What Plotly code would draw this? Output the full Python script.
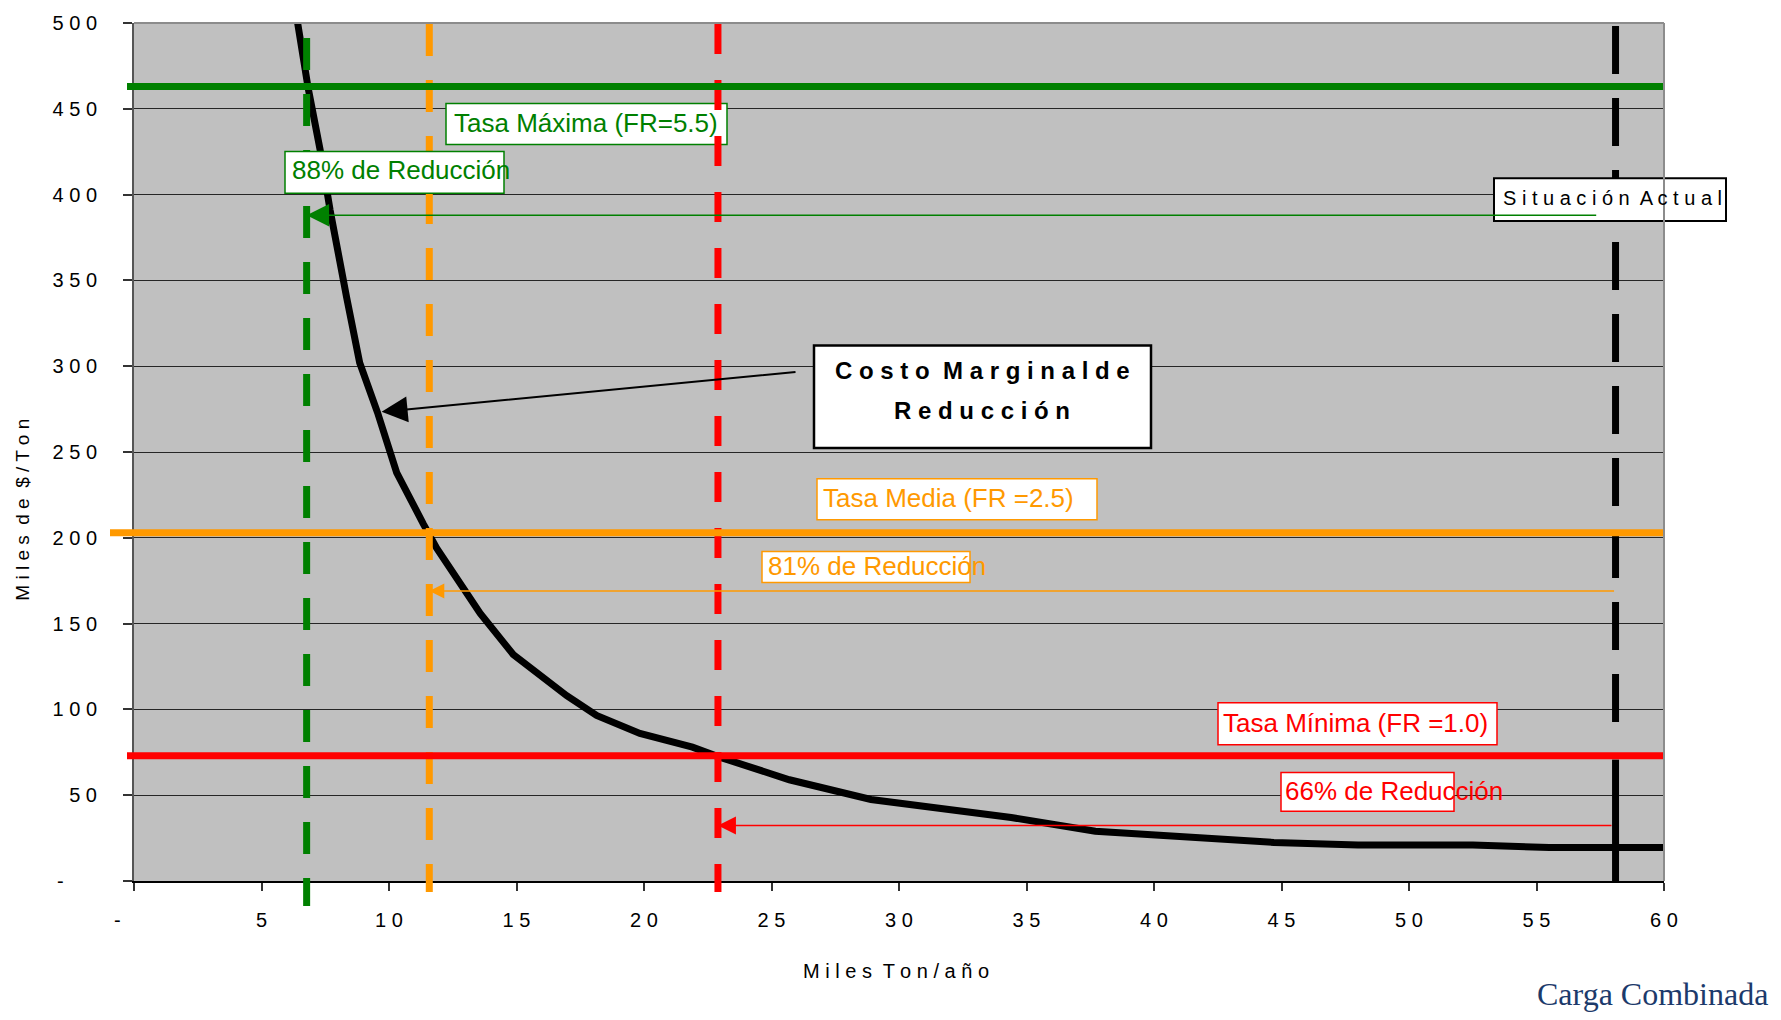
import plotly.graph_objects as go

# ---------------- data ----------------
curve_x = [6.2, 6.42, 6.83, 7.3, 7.69, 8.34, 8.85, 9.55, 10.3, 11.35, 11.87, 13.57,
           14.87, 16.97, 18.14, 19.84, 21.9, 22.9, 25.7, 28.9, 30.9, 34.4, 37.7,
           44.7, 48.0, 52.5, 55.5, 60.0]
curve_y = [520, 500, 462, 426, 391, 340, 302, 273, 238, 208, 194, 156,
           132, 108, 96.5, 86, 78, 72.5, 59, 47.5, 43.5, 37, 29,
           22.5, 21, 21, 19.5, 19.5]

rate_names = ["Tasa Máxima (FR=5.5)", "Tasa Media (FR =2.5)", "Tasa Mínima (FR =1.0)"]
rate_values = [463, 203, 73]            # Miles de $/Ton
reduction_x = [6.77, 11.58, 22.9]       # Miles Ton/año at each rate
reduction_labels = ["88% de Reducción", "81% de Reducción", "66% de Reducción"]
arrow_levels = [388, 169, 32.3]
arrow_tails = [57.4, 58.1, 58.0]
current_x = 58.1                        # Situación Actual

x_ticks = list(range(0, 61, 5))
y_ticks = list(range(0, 501, 50))
NB = "\u00a0"
x_ticktext = ["-" + NB * 6] + [" ".join(str(v)) for v in x_ticks[1:]]
y_ticktext = ["-" + NB * 6] + [" ".join(str(v)) for v in y_ticks[1:]]

colors = ["#008000", "#FF9900", "#FF0000"]

# ---------------- layout geometry ----------------
W, H = 1781, 1020
L, R, T, B = 134, 1664, 19, 881


def px(x):
    return (x - L) / (R - L)


def py(y):
    return (B - y) / (B - T)


FONT = "Liberation Sans, Arial, sans-serif"

fig = go.Figure()
fig.add_trace(go.Scatter(x=curve_x, y=curve_y, mode="lines",
                         line=dict(color="black", width=7), hoverinfo="skip",
                         showlegend=False))

shapes = []
vtops = [py(34), py(20), py(20)]
vbots = [py(906), py(892), py(892)]
dashes = ["32px,24px", "32px,24px", "30px,26px"]


def vline(x, top, bot, color, dash):
    return dict(type="line", xref="x", yref="paper", x0=x, x1=x, y0=top, y1=bot,
                line=dict(color=color, width=7, dash=dash), layer="above")


shapes.append(vline(reduction_x[0], vtops[0], vbots[0], colors[0], dashes[0]))
shapes.append(vline(reduction_x[1], vtops[1], vbots[1], colors[1], dashes[1]))
shapes.append(vline(current_x, py(22), py(740), "black", "48px,24px"))
shapes.append(vline(current_x, py(759), 0, "black", "solid"))


def box(x0, y0, x1, y1, color, w=1.5):
    return dict(type="rect", xref="paper", yref="paper", x0=px(x0), x1=px(x1),
                y0=py(y1), y1=py(y0), fillcolor="white",
                line=dict(color=color, width=w), layer="above")


shapes.append(box(446, 100, 727, 141, colors[0]))
shapes.append(vline(reduction_x[2], vtops[2], vbots[2], colors[2], dashes[2]))

# horizontal rate lines
hstarts = [px(127), px(110), px(127)]
for v, c, s in zip(rate_values, colors, hstarts):
    shapes.append(dict(type="line", xref="paper", yref="y", x0=s, x1=px(1663), y0=v, y1=v,
                       line=dict(color=c, width=7), layer="above"))

shapes.append(box(285, 148, 504, 190, colors[0]))
shapes.append(box(1494, 175, 1726, 218, "black", 2))
shapes.append(box(814, 343, 1151, 446, "black", 2.5))
shapes.append(box(817, 477, 1097, 518, colors[1]))
shapes.append(box(762, 550, 970, 581, colors[1]))
shapes.append(box(1218, 702, 1497, 744, colors[2]))
shapes.append(box(1281, 772, 1454, 811, colors[2]))

# plot frame (top / right)
shapes.append(dict(type="line", xref="paper", yref="paper", x0=0, x1=1, y0=1, y1=1,
                   line=dict(color="#8c8c8c", width=2), layer="above"))
shapes.append(dict(type="line", xref="paper", yref="paper", x0=1, x1=1, y0=0, y1=1,
                   line=dict(color="#8c8c8c", width=2), layer="above"))

ann = []


def label(text, x, y, color, anchor="left", size=26, bold=False):
    ann.append(dict(text=text, xref="paper", yref="paper", x=px(x), y=py(y),
                    xanchor=anchor, yanchor="middle", showarrow=False,
                    font=dict(family=FONT, size=size, color=color,
                              weight="bold" if bold else "normal")))


label(rate_names[0], 586, 119, colors[0], "center")
label(reduction_labels[0], 290, 167, colors[0])
label("S i t u a c i ó n  A c t u a l", 1501, 195, "black", size=20)
label("C o s t o  M a r g i n a l d e", 982, 368, "black", "center", size=24, bold=True)
label("R e d u c c i ó n", 982, 408, "black", "center", size=24, bold=True)
label(rate_names[1], 821, 496, colors[1])
label(reduction_labels[1], 766, 565, colors[1])
label(rate_names[2], 1221, 722, colors[2])
label(reduction_labels[2], 1283, 791, colors[2])

# reduction arrows
sizes = [3.0, 2.0, 2.4]
for yv, xh, xt, c, s in zip(arrow_levels, reduction_x, arrow_tails, colors, sizes):
    ann.append(dict(text="", x=xh, y=yv, ax=xt, ay=yv, xref="x", yref="y",
                    axref="x", ayref="y", showarrow=True, arrowhead=2,
                    arrowsize=s, arrowwidth=1.5, arrowcolor=c, standoff=0))
# marginal cost arrow
ann.append(dict(text="", x=9.71, y=273.4, ax=26.0, ay=296.7, xref="x", yref="y",
                axref="x", ayref="y", showarrow=True, arrowhead=2, arrowsize=2.6,
                arrowwidth=2, arrowcolor="black", standoff=0))

# axis titles and footer
ann.append(dict(text="M i l e s  T o n / a ñ o", xref="paper", yref="paper",
                x=px(896), y=py(971), showarrow=False, xanchor="center", yanchor="middle",
                font=dict(family=FONT, size=20, color="black")))
ann.append(dict(text="M i l e s  d e  $ / T o n", xref="paper", yref="paper",
                x=px(23), y=py(508), showarrow=False, xanchor="center", yanchor="middle",
                textangle=-90, font=dict(family=FONT, size=19, color="black")))
ann.append(dict(text="Carga Combinada", xref="paper", yref="paper",
                x=px(1770), y=py(995), showarrow=False, xanchor="right", yanchor="middle",
                font=dict(family="Liberation Serif, Times New Roman, serif", size=32,
                          color="#1c3a6b")))

fig.update_layout(
    width=W, height=H,
    margin=dict(l=L, r=W - R, t=T, b=H - B, pad=0),
    paper_bgcolor="white", plot_bgcolor="#C0C0C0",
    shapes=shapes, annotations=ann, showlegend=False,
    font=dict(family=FONT, size=20, color="black"),
    xaxis=dict(range=[0, 60], tickvals=x_ticks, ticktext=x_ticktext,
               showgrid=False, zeroline=False, showline=True, linecolor="black",
               linewidth=2, ticks="outside", ticklen=8, tickwidth=1.5,
               tickcolor="#333", ticklabelstandoff=12,
               tickfont=dict(family=FONT, size=20, color="black"), fixedrange=True),
    yaxis=dict(range=[0, 500], tickvals=y_ticks, ticktext=y_ticktext,
               showgrid=True, gridcolor="#262626", gridwidth=1, zeroline=False,
               showline=True, linecolor="#555555", linewidth=2, ticks="outside",
               ticklen=9, tickwidth=1.5, tickcolor="#333", ticklabelstandoff=22,
               tickfont=dict(family=FONT, size=20, color="black"), fixedrange=True),
)

fig.write_html("out.html", include_plotlyjs=True, config={"displayModeBar": False},
               post_script="document.body.style.margin='0';document.body.style.overflow='hidden';")
